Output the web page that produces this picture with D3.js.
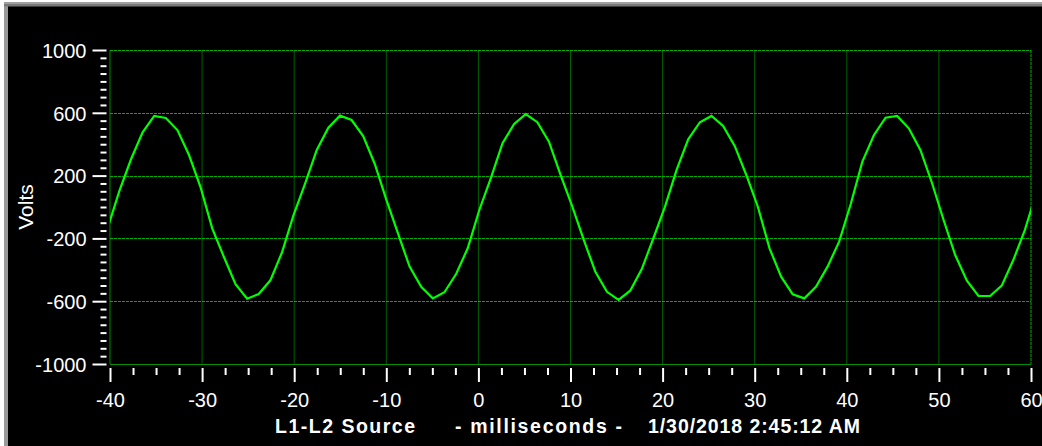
<!DOCTYPE html>
<html>
<head>
<meta charset="utf-8">
<script src="https://cdn.jsdelivr.net/npm/d3@7"></script>
<style>
  html, body { margin: 0; padding: 0; background: #ffffff; }
  svg { display: block; }
  text { font-family: "Liberation Sans", Arial, sans-serif; }
</style>
</head>
<body>
<svg id="chart" width="1042" height="446"></svg>
<script>
// ---- data ----
const times = [-40.24,-38.98,-37.72,-36.46,-35.20,-33.94,-32.68,-31.42,-30.16,-28.90,
  -27.64,-26.37,-25.11,-23.85,-22.59,-21.33,-20.07,-18.81,-17.55,-16.29,
  -15.03,-13.77,-12.51,-11.25,-9.99,-8.73,-7.47,-6.21,-4.95,-3.69,
  -2.42,-1.16,0.10,1.36,2.62,3.88,5.14,6.40,7.66,8.92,
  10.18,11.44,12.70,13.96,15.22,16.48,17.74,19.00,20.26,21.52,
  22.78,24.05,25.31,26.57,27.83,29.09,30.35,31.61,32.87,34.13,
  35.39,36.65,37.91,39.17,40.43,41.69,42.95,44.21,45.47,46.73,
  47.99,49.25,50.51,51.77,53.04,54.30,55.56,56.82,58.08,59.34,60.60];
const volts = [-132,103,304,476,580,567,490,331,125,-136,
  -317,-492,-584,-554,-467,-290,-51,151,363,505,
  582,554,452,274,45,-168,-380,-508,-582,-543,
  -427,-263,-19,185,406,529,592,540,416,204,
  6,-210,-412,-540,-592,-533,-395,-199,2,236,
  431,540,580,516,389,204,0,-263,-444,-556,
  -582,-508,-380,-221,19,289,459,569,580,501,
  363,153,-83,-306,-469,-567,-567,-501,-338,-146,96];
const xTickValues = [-40,-30,-20,-10,0,10,20,30,40,50,60];
const yTickValues = [-1000,-600,-200,200,600,1000];
const yTitle = "Volts";
const footerParts = ["L1-L2 Source", "- milliseconds -", "1/30/2018 2:45:12 AM"];

// ---- layout ----
const svg = d3.select("#chart");
const L = 110, R = 1031, T = 50, B = 364;
const fmt = d => String(d);

// frame
svg.append("rect").attr("x", 0).attr("y", 0).attr("width", 1042).attr("height", 446).attr("fill", "#ffffff");
svg.append("rect").attr("x", 4).attr("y", 2).attr("width", 1038).attr("height", 444).attr("fill", "#a0a0a0");
svg.append("rect").attr("x", 4).attr("y", 4).attr("width", 1038).attr("height", 442).attr("fill", "#7a7a7a");
svg.append("rect").attr("x", 4).attr("y", 6.5).attr("width", 4).attr("height", 440).attr("fill", "#9a9a9a");
svg.append("rect").attr("x", 8).attr("y", 6.5).attr("width", 1034).attr("height", 440).attr("fill", "#000000");

const x = d3.scaleLinear().domain([-40, 60]).range([L, R]);
const y = d3.scaleLinear().domain([-1000, 1000]).range([B, T]);

// grid: vertical
const grid = svg.append("g");
xTickValues.forEach(v => {
  const isRight = v === 60;
  grid.append("line")
    .attr("x1", x(v)).attr("x2", x(v)).attr("y1", T).attr("y2", B)
    .attr("stroke", isRight ? "#00b000" : (v === -40 ? "#008a00" : "#006000"))
    .attr("stroke-width", 1)
    .attr("stroke-dasharray", isRight ? "3,1" : null);
});
// grid: horizontal
yTickValues.forEach(v => {
  const isBottom = v === -1000;
  grid.append("line")
    .attr("x1", L).attr("x2", R).attr("y1", Math.round(y(v)) + 0.5).attr("y2", Math.round(y(v)) + 0.5)
    .attr("stroke", isBottom ? "#009000" : "#00b000")
    .attr("stroke-width", 1)
    .attr("stroke-dasharray", isBottom ? null : "3,1");
});

// waveform
svg.append("clipPath").attr("id", "plotclip")
  .append("rect").attr("x", L).attr("y", T - 2).attr("width", R - L).attr("height", B - T + 4);
const pts = times.map((t, i) => [t, volts[i]]);
const line = d3.line().x(d => x(d[0])).y(d => y(d[1]));
svg.append("path")
  .datum(pts)
  .attr("clip-path", "url(#plotclip)")
  .attr("d", line)
  .attr("fill", "none")
  .attr("stroke", "#00ff00")
  .attr("stroke-width", 2.2)
  .attr("stroke-linejoin", "miter");

// y axis
const yMinor = d3.range(-1000, 1000.1, 50).filter(v => !yTickValues.includes(v));
const yMinorAxis = svg.append("g").attr("transform", "translate(106.5,0)")
  .call(d3.axisLeft(y).tickValues(yMinor).tickSize(6).tickFormat(""));
const yAxis = svg.append("g").attr("transform", "translate(106.5,0)")
  .call(d3.axisLeft(y).tickValues(yTickValues).tickSize(14).tickPadding(6).tickFormat(fmt));
[yMinorAxis, yAxis].forEach(g => {
  g.select(".domain").remove();
  g.selectAll(".tick line").attr("stroke", "#ffffff").attr("stroke-width", 2);
});
yAxis.selectAll(".tick text")
  .attr("fill", "#ffffff")
  .attr("font-size", "20px")
  .attr("font-family", "'Liberation Sans', Arial, sans-serif")
  .attr("dy", "0.36em");

// x axis
const xMinor = d3.range(-40, 60.01, 2.5).filter(v => !xTickValues.includes(v));
const xMinorAxis = svg.append("g").attr("transform", "translate(0,368)")
  .call(d3.axisBottom(x).tickValues(xMinor).tickSize(7).tickFormat(""));
const xAxis = svg.append("g").attr("transform", "translate(0,368)")
  .call(d3.axisBottom(x).tickValues(xTickValues).tickSize(14).tickFormat(fmt));
[xMinorAxis, xAxis].forEach(g => {
  g.select(".domain").remove();
  g.selectAll(".tick line").attr("stroke", "#ffffff").attr("stroke-width", 2);
});
xAxis.selectAll(".tick text")
  .attr("fill", "#ffffff")
  .attr("font-size", "20px")
  .attr("font-family", "'Liberation Sans', Arial, sans-serif")
  .attr("y", 38.5)
  .attr("dy", null);

// y title
svg.append("text")
  .attr("transform", "translate(33,207) rotate(-90)")
  .attr("text-anchor", "middle")
  .attr("fill", "#ffffff")
  .attr("font-size", "21px")
  .text(yTitle);

// footer
const footerX = [275, 455, 648];
const footerW = [140, 167, 212];
footerParts.forEach((s, i) => {
  svg.append("text")
    .attr("x", footerX[i]).attr("y", 433)
    .attr("fill", "#ffffff")
    .attr("font-size", "19.5px")
    .attr("font-weight", "bold")
    .attr("textLength", footerW[i])
    .attr("lengthAdjust", "spacing")
    .text(s);
});
</script>
</body>
</html>
